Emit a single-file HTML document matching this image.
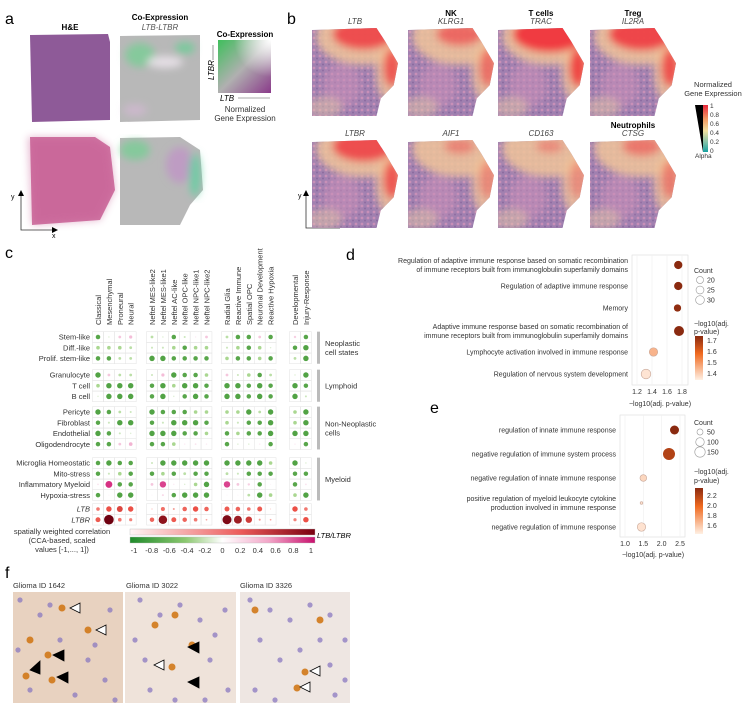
<!DOCTYPE html>
<html><head><meta charset="utf-8"><style>
html,body{margin:0;padding:0;background:#fff;}
svg{display:block;font-family:"Liberation Sans",sans-serif;}
</style></head><body>
<svg id="fig" width="749" height="713" viewBox="0 0 749 713" xmlns="http://www.w3.org/2000/svg">
<defs>
 <filter id="blur4"><feGaussianBlur stdDeviation="4"/></filter>
 <filter id="blur2"><feGaussianBlur stdDeviation="2"/></filter>
 <linearGradient id="coexp-g" x1="0" y1="0" x2="1" y2="1">
  <stop offset="0" stop-color="#3fbf5c"/><stop offset="0.5" stop-color="#b0b0b0"/><stop offset="1" stop-color="#8a3a8a"/></linearGradient>
 <radialGradient id="coexp-w" cx="1" cy="0" r="0.7"><stop offset="0" stop-color="#fff"/><stop offset="1" stop-color="#fff" stop-opacity="0"/></radialGradient>
 <linearGradient id="b-cbar" x1="0" y1="0" x2="0" y2="1">
  <stop offset="0" stop-color="#e8283c"/><stop offset="0.3" stop-color="#f29a62"/><stop offset="0.55" stop-color="#f1e0a0"/><stop offset="0.8" stop-color="#7fc0a8"/><stop offset="1" stop-color="#14a0a0"/></linearGradient>
 <linearGradient id="c-red" x1="0" x2="1"><stop offset="0" stop-color="#fff5f5"/><stop offset="0.6" stop-color="#ec5a5a"/><stop offset="1" stop-color="#7a0010"/></linearGradient>
 <linearGradient id="c-gm" x1="0" x2="1"><stop offset="0" stop-color="#1f8a2a"/><stop offset="0.3" stop-color="#8cc870"/><stop offset="0.5" stop-color="#ffffff"/><stop offset="0.75" stop-color="#f2a6c8"/><stop offset="1" stop-color="#c8116e"/></linearGradient>
 <linearGradient id="pv-d" x1="0" y1="1" x2="0" y2="0"><stop offset="0" stop-color="#fff0e4"/><stop offset="0.6" stop-color="#f06a20"/><stop offset="1" stop-color="#8a2a10"/></linearGradient>
 <pattern id="tex" width="6" height="6" patternUnits="userSpaceOnUse"><rect width="6" height="6" fill="#a080b0"/><circle cx="2" cy="2" r="1.4" fill="#c890b8"/><circle cx="5" cy="4.5" r="1" fill="#8a6aa0"/></pattern>
</defs>

<!-- Panel a -->
<g>
 <text x="5" y="24" font-size="16">a</text>
 <text x="70" y="30" font-size="8" font-weight="bold" text-anchor="middle">H&amp;E</text>
 <text x="160" y="20" font-size="8" font-weight="bold" text-anchor="middle">Co-Expression</text>
 <text x="160" y="30" font-size="8" font-style="italic" fill="#555" text-anchor="middle">LTB-LTBR</text>
 <path d="M30 35 L108 34 L110 42 L110 120 L32 122 Z" fill="#8e5a98"/>
 <path d="M30 137 L95 137 L110 147 L115 190 L100 220 L32 225 Z" fill="#d27aa6"/>
 <path d="M28 137 L95 137 L110 147 L115 190 L100 220 L32 225 Z" fill="#c0508a" opacity="0.4" filter="url(#blur4)"/>
 <path d="M120 36 L200 35 L200 120 L120 122 Z" fill="#b8b8b8"/>
 <g filter="url(#blur4)"><ellipse cx="140" cy="55" rx="15" ry="12" fill="#70d090" opacity="0.7"/><ellipse cx="165" cy="62" rx="18" ry="6" fill="#f0e8f0" opacity="0.8"/><ellipse cx="185" cy="48" rx="10" ry="6" fill="#60d090" opacity="0.7"/><ellipse cx="135" cy="110" rx="12" ry="6" fill="#d8b8d8" opacity="0.6"/></g>
 <path d="M120 138 L180 137 L200 150 L203 190 L190 205 L180 225 L120 225 Z" fill="#b8b8b8"/>
 <g filter="url(#blur4)"><ellipse cx="135" cy="150" rx="15" ry="10" fill="#70d090" opacity="0.7"/><ellipse cx="180" cy="165" rx="14" ry="18" fill="#c090c8" opacity="0.7"/><ellipse cx="195" cy="175" rx="6" ry="22" fill="#60d0a0" opacity="0.8"/></g>
 <rect x="218" y="40" width="53" height="53" fill="url(#coexp-g)"/>
 <rect x="218" y="40" width="53" height="53" fill="url(#coexp-w)"/>
 <text x="245" y="37" font-size="8" font-weight="bold" text-anchor="middle">Co-Expression</text>
 <text x="214" y="80" font-size="8" font-style="italic" transform="rotate(-90 214 80)">LTBR</text>
 <line x1="213" y1="60" x2="213" y2="45" stroke="#555" stroke-width="0.6"/>
 <text x="220" y="101" font-size="8" font-style="italic">LTB</text>
 <line x1="238" y1="98" x2="270" y2="98" stroke="#555" stroke-width="0.6"/>
 <text x="245" y="112" font-size="8" text-anchor="middle" fill="#333">Normalized</text>
 <text x="245" y="121" font-size="8" text-anchor="middle" fill="#333">Gene Expression</text>
 <path d="M21 192 L21 230 L55 230" fill="none" stroke="#333" stroke-width="0.8"/>
 <path d="M18 196 L21 190 L24 196 Z M52 227 L58 230 L52 233 Z" fill="#000"/>
 <text x="11" y="199" font-size="7">y</text><text x="52" y="238" font-size="7">x</text>
</g>

<!-- Panel b -->
<g id="panel-b">
 <text x="287" y="24" font-size="16">b</text>
 <path d="M306 192 L306 228 L340 228" fill="none" stroke="#333" stroke-width="0.8"/>
 <path d="M303 196 L306 190 L309 196 Z" fill="#000"/>
 <text x="298" y="198" font-size="7">y</text>
 <text x="713" y="87" font-size="7.5" text-anchor="middle" fill="#333">Normalized</text>
 <text x="713" y="96" font-size="7.5" text-anchor="middle" fill="#333">Gene Expression</text>
 <path d="M695 105 L703 105 L703 152 Z" fill="#000"/>
 <rect x="703" y="105" width="5" height="47" fill="url(#b-cbar)"/>
 <g font-size="6.5" fill="#333">
  <text x="710" y="108">1</text><text x="710" y="117">0.8</text><text x="710" y="126">0.6</text><text x="710" y="135">0.4</text><text x="710" y="144">0.2</text><text x="710" y="153">0</text>
 </g>
 <text x="695" y="158" font-size="6.5" fill="#333">Alpha</text>
</g>

<!-- Panel c -->
<g id="panel-c">
 <text x="5" y="258" font-size="16">c</text>
 <g font-size="7.5" fill="#333" text-anchor="middle">
  <text x="62" y="534">spatially weighted correlation</text>
  <text x="62" y="543">(CCA-based, scaled</text>
  <text x="62" y="552">values [-1,..., 1])</text>
 </g>
 <rect x="130" y="529" width="185" height="6" fill="url(#c-red)" stroke="#bbb" stroke-width="0.4"/>
 <rect x="130" y="537" width="185" height="6" fill="url(#c-gm)" stroke="#bbb" stroke-width="0.4"/>
 <text x="317" y="538" font-size="7.5" font-style="italic">LTB/LTBR</text>
 <g id="c-ticks" font-size="7.5" fill="#333" text-anchor="middle"></g>
</g>

<!-- Panel d -->
<g id="panel-d">
 <text x="346" y="260" font-size="16">d</text>
 <rect x="632" y="255" width="56" height="130" fill="none" stroke="#ddd" stroke-width="0.6"/>
 <text x="660" y="406" font-size="7" text-anchor="middle" fill="#333">−log10(adj. p-value)</text>
 <text x="694" y="273" font-size="7" fill="#333">Count</text>
 <text x="694" y="326" font-size="7" fill="#333">−log10(adj.</text>
 <text x="694" y="334" font-size="7" fill="#333">p-value)</text>
 <rect x="695" y="336" width="8" height="44" fill="url(#pv-d)"/>
 <g font-size="7" fill="#333"><text x="707" y="343">1.7</text><text x="707" y="354">1.6</text><text x="707" y="365">1.5</text><text x="707" y="376">1.4</text></g>
</g>

<!-- Panel e -->
<g id="panel-e">
 <text x="430" y="413" font-size="16">e</text>
 <rect x="620" y="415" width="65" height="122" fill="none" stroke="#ddd" stroke-width="0.6"/>
 <text x="653" y="557" font-size="7" text-anchor="middle" fill="#333">−log10(adj. p-value)</text>
 <text x="694" y="425" font-size="7" fill="#333">Count</text>
 <text x="694" y="474" font-size="7" fill="#333">−log10(adj.</text>
 <text x="694" y="483" font-size="7" fill="#333">p-value)</text>
 <rect x="695" y="488" width="8" height="46" fill="url(#pv-d)"/>
 <g font-size="7" fill="#333"><text x="707" y="498">2.2</text><text x="707" y="508">2.0</text><text x="707" y="518">1.8</text><text x="707" y="528">1.6</text></g>
</g>

<!-- Panel f -->
<g id="panel-f">
 <text x="5" y="578" font-size="16">f</text>
 <text x="13" y="588" font-size="7.5" fill="#333">Glioma ID 1642</text>
 <text x="126" y="588" font-size="7.5" fill="#333">Glioma ID 3022</text>
 <text x="240" y="588" font-size="7.5" fill="#333">Glioma ID 3326</text>
 <rect x="13" y="592" width="110" height="111" fill="#e8d2c0"/>
 <rect x="125" y="592" width="111" height="111" fill="#efe3da"/>
 <rect x="240" y="592" width="110" height="111" fill="#eee6e2"/>
 <g id="f-cells"></g>
 <g stroke="#000" stroke-width="0.8">
  <path d="M70 608 L80 603 L80 613 Z" fill="#fff"/><path d="M96 630 L106 625 L106 635 Z" fill="#fff"/>
  <path d="M53 655 L64 650 L64 661 Z" fill="#000"/><path d="M30 670 L40 661 L40 674 Z" fill="#000"/><path d="M57 677 L68 672 L68 683 Z" fill="#000"/>
  <path d="M188 647 L199 642 L199 653 Z" fill="#000"/><path d="M154 665 L164 660 L164 670 Z" fill="#fff"/><path d="M188 682 L199 677 L199 688 Z" fill="#000"/>
  <path d="M310 671 L320 666 L320 676 Z" fill="#fff"/><path d="M300 687 L310 682 L310 692 Z" fill="#fff"/>
 </g>
</g>
</svg>
<script>
// ---------- Panel c data ----------
const cColumns = ["Classical","Mesenchymal","Proneural","Neural","Neftel MES-like2","Neftel MES-like1","Neftel AC-like","Neftel OPC-like","Neftel NPC-like1","Neftel NPC-like2","Radial Glia","Reactive Immune","Spatial OPC","Neuronal Development","Reactive Hypoxia","Developmental","Injury-Response"];
const cRows = ["Stem-like","Diff.-like","Prolif. stem-like","Granulocyte","T cell","B cell","Pericyte","Fibroblast","Endothelial","Oligodendrocyte","Microglia Homeostatic","Mito-stress","Inflammatory Myeloid","Hypoxia-stress","LTB","LTBR"];
const cRowGroups = [0,0,0,1,1,1,2,2,2,2,3,3,3,3,4,4];
const cColGroups = [0,0,0,0,1,1,1,1,1,1,2,2,2,2,2,3,3];
const cValues = [
 [-.5,-.1,.3,.35,-.3,-.1,-.5,-.2,.1,.3,-.3,-.5,-.5,.3,-.5,.25,-.5],
 [-.4,-.4,-.4,-.3,-.2,-.2,-.4,-.5,-.4,-.4,-.2,-.4,-.5,-.4,-.1,-.5,-.6],
 [-.5,-.5,-.3,-.3,-.6,-.6,-.5,-.5,-.5,-.5,-.4,-.5,-.5,-.4,-.5,-.3,-.6],
 [-.6,.3,-.3,-.3,-.2,.35,-.6,-.5,-.5,-.4,.3,-.2,-.4,-.5,-.3,-.1,-.6],
 [-.4,-.6,-.6,-.6,-.5,-.6,-.4,-.6,-.6,-.5,-.6,-.6,-.5,-.6,-.5,-.6,-.5],
 [-.1,-.6,-.6,-.6,-.5,-.6,-.1,-.5,-.6,-.5,-.6,-.6,-.5,-.6,-.5,-.6,-.2],
 [-.6,-.5,-.3,-.2,-.6,-.5,-.5,-.5,-.4,-.4,-.4,-.4,-.6,-.3,-.6,-.4,-.6],
 [-.5,-.2,-.6,-.6,-.5,-.2,-.6,-.6,-.6,-.5,-.4,-.2,-.5,-.5,-.6,-.4,-.6],
 [-.6,-.5,-.2,-.1,-.6,-.6,-.6,-.5,-.5,-.4,-.5,-.4,-.5,-.5,-.6,-.6,-.6],
 [-.5,-.5,.3,.4,-.5,-.5,-.4,.1,.15,.1,-.5,-.1,-.1,.1,-.5,.1,-.5],
 [-.5,-.6,-.5,-.5,-.2,-.6,-.6,-.6,-.6,-.6,-.6,-.6,-.6,-.6,-.4,-.6,-.1],
 [-.5,-.2,-.4,-.5,-.5,-.4,-.5,-.3,-.5,-.5,-.3,-.2,-.5,-.5,-.5,-.5,-.5],
 [.15,.75,-.5,-.5,.3,.7,.1,-.1,-.4,-.6,.7,.3,.25,-.5,.05,-.5,.15],
 [-.5,.05,-.6,-.6,.05,.2,-.5,-.6,-.6,-.6,.05,.05,-.3,-.6,-.4,-.4,-.6],
 [.4,.6,.65,.6,.05,.45,.2,.5,.6,.5,.55,.5,.4,.55,0,.6,.4],
 [.55,1,.4,.35,.5,.9,.55,.5,.4,.15,.95,.85,.7,.2,.15,.35,.6]
];
const cGroupLabels = [["Neoplastic","cell states"],["Lymphoid"],["Non-Neoplastic","cells"],["Myeloid"]];
const cTickLabels = ["-1","-0.8","-0.6","-0.4","-0.2","0","0.2","0.4","0.6","0.8","1"];

// ---------- Panel d/e data ----------
const dTerms = [["Regulation of adaptive immune response based on somatic recombination","of immune receptors built from immunoglobulin superfamily domains"],["Regulation of adaptive immune response"],["Memory"],["Adaptive immune response based on somatic recombination of","immune receptors built from immunoglobulin superfamily domains"],["Lymphocyte activation involved in immune response"],["Regulation of nervous system development"]];
const dPval = [1.75,1.75,1.74,1.76,1.42,1.32];
const dCount = [22,22,17,32,23,30];
const dTicks = [1.2,1.4,1.6,1.8];
const dLegendCounts = [20,25,30];
const eTerms = [["regulation of innate immune response"],["negative regulation of immune system process"],["negative regulation of innate immune response"],["positive regulation of myeloid leukocyte cytokine","production involved in immune response"],["negative regulation of immune response"]];
const ePval = [2.35,2.2,1.5,1.45,1.45];
const eCount = [90,160,50,8,80];
const eTicks = [1.0,1.5,2.0,2.5];
const eLegendCounts = [50,100,150];

// ---------- Panel b data ----------
const bTitles = [["","LTB"],["NK","KLRG1"],["T cells","TRAC"],["Treg","IL2RA"],["","LTBR"],["","AIF1"],["","CD163"],["Neutrophils","CTSG"]];
const bHot = [0.8,0.6,0.95,0.85,0.8,0.4,0.35,0.5];

const NS = "http://www.w3.org/2000/svg";
function mk(tag, attrs, parent){const e=document.createElementNS(NS,tag);for(const k in attrs)e.setAttribute(k,attrs[k]);parent.appendChild(e);return e;}
const svg = document.getElementById('fig');
const defs = svg.querySelector('defs');

// ----- panel c rendering -----
const pc = document.getElementById('panel-c');
const colGroupStart=[98,152,227,295], colStep=10.9;
const rowGroupStart=[337,375,412,463,509], rowStep=10.7;
function colX(i){const g=cColGroups[i];let k=0;for(let j=0;j<i;j++)if(cColGroups[j]===g)k++;return colGroupStart[g]+k*colStep;}
function rowY(i){const g=cRowGroups[i];let k=0;for(let j=0;j<i;j++)if(cRowGroups[j]===g)k++;return rowGroupStart[g]+k*rowStep;}
function lerp(a,b,t){return a.map((v,i)=>Math.round(v+(b[i]-v)*t));}
function gmColor(v){const g=[60,150,50],lg=[170,215,145],w=[255,255,255],p=[242,180,210],m=[210,30,120];
 let c; if(v<-0.4)c=lerp(g,lg,(v+1)/0.6*0.3);else if(v<0)c=lerp(lg,w,(v+0.4)/0.4*0.8);else if(v<0.4)c=lerp(w,p,v/0.4);else c=lerp(p,m,(v-0.4)/0.4>1?1:(v-0.4)/0.4);return `rgb(${c})`;}
function redColor(v){const a=[250,200,195],b=[236,80,70],c=[110,0,16];const t=Math.abs(v);const r=t<0.6?lerp(a,b,t/0.6):lerp(b,c,(t-0.6)/0.4);return `rgb(${r})`;}
for(let g=0;g<4;g++){
  const cols=cColumns.map((_,i)=>i).filter(i=>cColGroups[i]===g);
  for(let rg=0;rg<5;rg++){
    const rows=cRows.map((_,i)=>i).filter(i=>cRowGroups[i]===rg);
    for(const r of rows)for(const c of cols){
      mk('rect',{x:colX(c)-colStep/2,y:rowY(r)-rowStep/2,width:colStep,height:rowStep,fill:'none',stroke:'#e2e2e2','stroke-width':0.5},pc);
    }
  }
}
cColumns.forEach((name,i)=>{
  const x=colX(i)+3;
  const t=mk('text',{x:x,y:325,'font-size':7.5,fill:'#333',transform:`rotate(-90 ${x} 325)`},pc);
  t.textContent=name;
  
  
});
cRows.forEach((name,i)=>{
  const t=mk('text',{x:90,y:rowY(i)+2.7,'font-size':7.5,fill:'#333','text-anchor':'end'},pc);
  if(i>=14)t.setAttribute('font-style','italic');
  t.textContent=name;
  
  
});
cValues.forEach((row,r)=>row.forEach((v,c)=>{
  const rad=0.5+4.3*Math.pow(Math.abs(v),1.3);
  const dot=mk('circle',{cx:colX(c),cy:rowY(r),r:rad,fill:r>=14?redColor(v):gmColor(v)},pc);
  
  
}));
const grpSpan=[[0,2],[3,5],[6,9],[10,13]];
grpSpan.forEach((s,g)=>{
  const y0=rowY(s[0])-rowStep/2,y1=rowY(s[1])+rowStep/2;
  const bar=mk('rect',{x:317,y:y0,width:3,height:y1-y0,fill:'#bbb'},pc);
  
  
  const lines=cGroupLabels[g];const mid=(y0+y1)/2;
  lines.forEach((l,k)=>{const t=mk('text',{x:325,y:mid+3-(lines.length-1)*4.5+k*9,'font-size':7.5,fill:'#333'},pc);t.textContent=l;
    
    });
});
const ct=document.getElementById('c-ticks');
cTickLabels.forEach((lab,i)=>{const t=mk('text',{x:134+i*(177/10),y:553},ct);t.textContent=lab;
  
  });

// ----- panel d/e -----
function oranges(t){t=Math.max(0,Math.min(1,t));const a=[255,238,225],b=[240,106,32],c=[138,42,16];const r=t<0.6?lerp(a,b,t/0.6):lerp(b,c,(t-0.6)/0.4);return `rgb(${r})`;}
function dotPlot(id,terms,pv,cnt,ticks,x0,x1,v0,v1,rowsY,labelX,pmin,pmax,cmax,rmax,legCounts,legY){
  const g=document.getElementById(id);
  const xs=v=>x0+(v-v0)/(v1-v0)*(x1-x0);
  ticks.forEach(t=>{mk('line',{x1:xs(t),x2:xs(t),y1:rowsY.top,y2:rowsY.bot,stroke:'#eee','stroke-width':0.6},g);
    const tx=mk('text',{x:xs(t),y:rowsY.bot+9,'font-size':7,'text-anchor':'middle',fill:'#333'},g);tx.textContent=t.toFixed(1);
    
    });
  terms.forEach((lines,i)=>{const y=rowsY.ys[i];
    lines.forEach((l,k)=>{const t=mk('text',{x:labelX,y:y+2.5-(lines.length-1)*4.5+k*9,'font-size':7,'text-anchor':'end',fill:'#333'},g);t.textContent=l;
      
      });
    const tt=(pv[i]-pmin)/(pmax-pmin);
    const c=mk('circle',{cx:xs(pv[i]),cy:y,r:Math.max(0.8,rmax*Math.sqrt(cnt[i]/cmax)),fill:oranges(tt),stroke:tt<0.4?'#c8a89a':'none','stroke-width':0.6},g);
    
    
  });
  legCounts.forEach((n,k)=>{const y=legY+k*10;mk('circle',{cx:700,cy:y,r:rmax*Math.sqrt(n/cmax)*0.9,fill:'none',stroke:'#999','stroke-width':0.6},g);
    const t=mk('text',{x:707,y:y+2.5,'font-size':7,fill:'#333'},g);t.textContent=n;
    
    });
}
dotPlot('panel-d',dTerms,dPval,dCount,dTicks,637,682,1.2,1.8,{top:255,bot:385,ys:[265,286,308,331,352,374]},628,1.3,1.75,32,5,dLegendCounts,280);
dotPlot('panel-e',eTerms,ePval,eCount,eTicks,625,680,1.0,2.5,{top:415,bot:537,ys:[430,454,478,503,527]},616,1.4,2.35,160,6,eLegendCounts,432);

// ----- panel b tissues -----
const pb=document.getElementById('panel-b');
const bX=[312,408,498,590], bY=[28,140];
bTitles.forEach((tt,i)=>{
  const x=bX[i%4], y=bY[Math.floor(i/4)], w=86, h=88;
  const cx=x+w/2;
  if(tt[0]){const t=mk('text',{x:cx,y:y-12,'font-size':8,'font-weight':'bold','text-anchor':'middle'},pb);t.textContent=tt[0];}
  const t2=mk('text',{x:cx,y:y-4,'font-size':8,'font-style':'italic',fill:'#444','text-anchor':'middle'},pb);t2.textContent=tt[1];
  
  
  const clipId='clip'+i;
  const cp=mk('clipPath',{id:clipId},defs);
  const d=`M${x} ${y+2} L${x+w*0.75} ${y} L${x+w*0.85} ${y+h*0.15} L${x+w} ${y+h*0.4} L${x+w*0.95} ${y+h*0.65} L${x+w*0.8} ${y+h*0.8} L${x+w*0.75} ${y+h} L${x} ${y+h} Z`;
  mk('path',{d:d},cp);
  const grp=mk('g',{'clip-path':`url(#${clipId})`},pb);
  
  
  mk('rect',{x:x,y:y,width:w,height:h,fill:'url(#tex)'},grp);
  const bl=mk('g',{filter:'url(#blur4)'},grp);
  mk('ellipse',{cx:x+w*0.35,cy:y+h*0.65,rx:w*0.22,ry:h*0.25,fill:'#c890b8',opacity:0.6},bl);
  const a=bHot[i];
  mk('ellipse',{cx:x+w*0.6,cy:y+h*0.1,rx:w*0.55,ry:h*0.32,fill:'#f0c49a',opacity:0.85},bl);
  mk('ellipse',{cx:x+w*0.92,cy:y+h*0.5,rx:w*0.18,ry:h*0.35,fill:'#f0c49a',opacity:0.8},bl);
  mk('ellipse',{cx:x+w*0.6,cy:y+h*0.07,rx:w*0.45*a,ry:h*0.22*a,fill:'#f0343c',opacity:a},bl);
  mk('ellipse',{cx:x+w*0.93,cy:y+h*0.45,rx:w*0.1,ry:h*0.22,fill:'#f04040',opacity:a},bl);
  mk('ellipse',{cx:x+w*0.15,cy:y+h*0.9,rx:w*0.2,ry:h*0.12,fill:'#e8c8a8',opacity:0.5},bl);
});

// ----- panel f cells -----
const fc=document.getElementById('f-cells');
const fPurple=[[20,600],[40,615],[60,640],[88,660],[105,680],[30,690],[75,695],[110,610],[50,605],[95,645],[18,650],[140,600],[160,615],[180,605],[200,620],[225,610],[135,640],[150,690],[175,700],[210,660],[228,690],[145,660],[205,700],[250,600],[270,610],[290,620],[310,605],[330,615],[345,640],[260,640],[280,660],[300,650],[330,665],[255,690],[275,700],[335,695],[320,640],[345,680],[215,635],[115,700]];
fPurple.forEach(p=>mk('circle',{cx:p[0],cy:p[1],r:2.6,fill:'#8a78c0',opacity:0.75},fc));
const fOrange=[[62,608],[88,630],[48,655],[26,676],[52,680],[30,640],[155,625],[172,667],[192,645],[175,615],[305,672],[297,688],[320,620],[255,610]];
fOrange.forEach(p=>mk('circle',{cx:p[0],cy:p[1],r:3.5,fill:'#d07818',opacity:0.9},fc));
</script>
</body></html>
